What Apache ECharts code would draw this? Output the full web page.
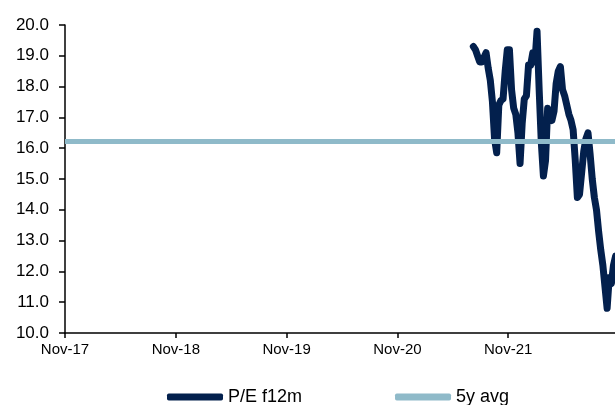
<!DOCTYPE html>
<html>
<head>
<meta charset="utf-8">
<script src="https://cdn.jsdelivr.net/npm/echarts@6/dist/echarts.min.js"></script>
<style>
  html, body { margin: 0; padding: 0; background: #fff; }
  #chart { width: 615px; height: 405px; }
</style>
</head>
<body>
<div id="chart"></div>
<script>
// Weekly forward P/E (12m forward earnings)
const dates = [
  '2021-07-09','2021-07-16','2021-07-23','2021-07-30','2021-08-06','2021-08-13','2021-08-20','2021-08-27',
  '2021-09-03','2021-09-10','2021-09-17','2021-09-24','2021-10-01','2021-10-08','2021-10-15','2021-10-22',
  '2021-10-29','2021-11-05','2021-11-12','2021-11-19','2021-11-26','2021-12-03','2021-12-10','2021-12-17',
  '2021-12-24','2021-12-31','2022-01-07','2022-01-14','2022-01-21','2022-01-28','2022-02-04','2022-02-11',
  '2022-02-18','2022-02-25','2022-03-04','2022-03-11','2022-03-18','2022-03-25','2022-04-01','2022-04-08',
  '2022-04-15','2022-04-22','2022-04-29','2022-05-06','2022-05-13','2022-05-20','2022-05-27','2022-06-03',
  '2022-06-10','2022-06-17','2022-06-24','2022-07-01','2022-07-08','2022-07-15','2022-07-22','2022-07-29',
  '2022-08-05','2022-08-12','2022-08-19','2022-08-26','2022-09-02','2022-09-09','2022-09-16','2022-09-23',
  '2022-09-30','2022-10-07','2022-10-14','2022-10-21'
];
const peF12m = [
  19.3, 19.2, 19.0, 18.8, 18.8, 18.95, 19.1, 18.6,
  18.2, 17.5, 16.3, 15.85, 17.4, 17.55, 17.6, 18.5,
  19.2, 19.2, 17.9, 17.3, 17.1, 16.5, 15.5, 16.8,
  17.6, 17.7, 18.7, 18.7, 19.1, 18.8, 19.8, 17.9,
  16.2, 15.1, 15.6, 17.3, 17.0, 16.9, 17.2, 18.1,
  18.5, 18.65, 17.9, 17.7, 17.4, 17.1, 16.9, 16.6,
  15.6, 14.4, 14.5, 15.2, 15.9, 16.3, 16.5, 15.8,
  15.0, 14.4, 14.0, 13.3, 12.7, 12.2, 11.5, 10.8,
  11.8, 11.6, 12.2, 12.5
];
const avg5y = 16.22;
const tickLabels = ['Nov-17', 'Nov-18', 'Nov-19', 'Nov-20', 'Nov-21'];
const yTicks = ['10.0','11.0','12.0','13.0','14.0','15.0','16.0','17.0','18.0','19.0','20.0'];

// x coordinate: years elapsed since the start of the axis (Nov 2017)
const axisStart = Date.UTC(2017, 10, 1);
const YEAR_MS = 365.25 * 86400000;
const toYears = d => (Date.parse(d + 'T00:00:00Z') - axisStart) / YEAR_MS;
const xMax = toYears('2022-10-19');

const font = "'Liberation Sans', Arial, sans-serif";
const navy = '#03204d';
const paleBlue = '#8fbac9';

const chart = echarts.init(document.getElementById('chart'), null, { renderer: 'canvas' });
chart.setOption({
  animation: false,
  backgroundColor: '#ffffff',
  grid: { left: 65, right: 0, top: 25, bottom: 72, containLabel: false },
  legend: {
    left: 162, top: 383,
    itemWidth: 56, itemHeight: 7, itemGap: 93,
    icon: 'roundRect',
    textStyle: { fontFamily: font, fontSize: 18, color: '#000' },
    data: [
      { name: 'P/E f12m', itemStyle: { color: navy } },
      { name: '5y avg', itemStyle: { color: paleBlue } }
    ]
  },
  xAxis: {
    type: 'value', min: 0, max: xMax, interval: 1,
    axisLine: { show: true, lineStyle: { color: '#000', width: 1.5 } },
    axisTick: { show: true, inside: false, length: 5, lineStyle: { color: '#000', width: 1.5 } },
    splitLine: { show: false },
    axisLabel: {
      margin: 9, fontFamily: font, fontSize: 15, color: '#000',
      formatter: v => tickLabels[Math.round(v)] || '',
      showMaxLabel: false
    }
  },
  yAxis: {
    type: 'value', min: 10, max: 20, interval: 1,
    axisLine: { show: true, lineStyle: { color: '#000', width: 1.5 } },
    axisTick: { show: true, inside: false, length: 6, lineStyle: { color: '#000', width: 1.5 } },
    splitLine: { show: false },
    axisLabel: {
      margin: 16, fontFamily: font, fontSize: 17, color: '#000',
      formatter: v => yTicks[Math.round(v - 10)]
    }
  },
  series: [
    {
      name: 'P/E f12m', type: 'line', showSymbol: false, symbol: 'none',
      data: dates.map((d, i) => [toYears(d), peF12m[i]]),
      lineStyle: { color: navy, width: 7, cap: 'round', join: 'round' },
      itemStyle: { color: navy },
      z: 2
    },
    {
      name: '5y avg', type: 'line', showSymbol: false, symbol: 'none',
      data: [[0, avg5y], [xMax, avg5y]],
      lineStyle: { color: paleBlue, width: 5 },
      itemStyle: { color: paleBlue },
      z: 3
    }
  ]
});
</script>
</body>
</html>
